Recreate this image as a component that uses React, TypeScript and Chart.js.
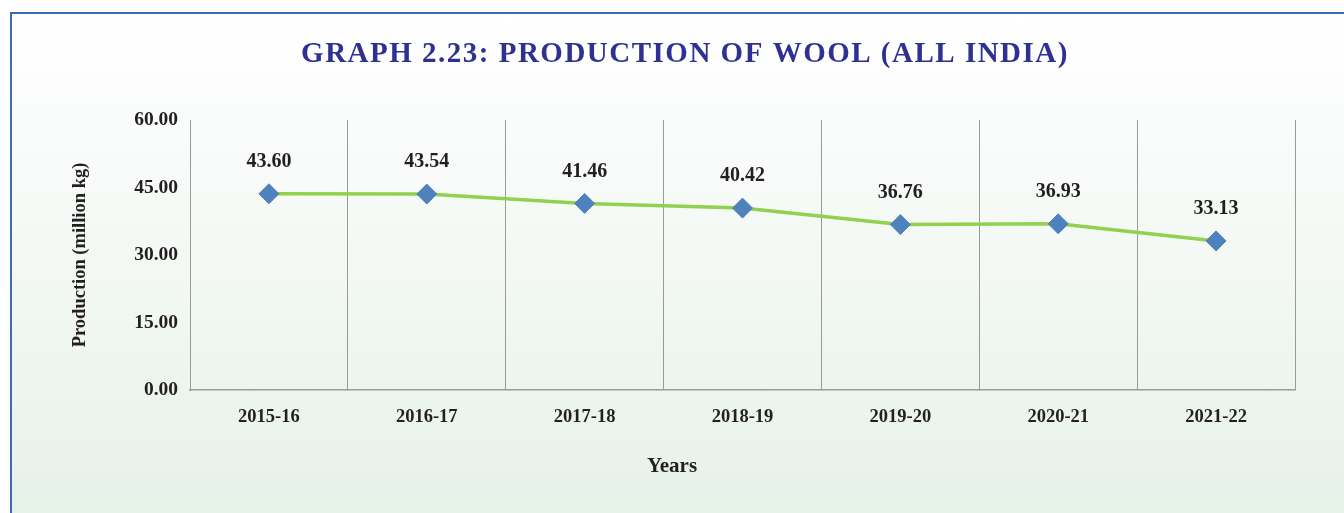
import React, { useEffect, useRef } from "react";
import { Chart, registerables } from "chart.js";

Chart.register(...registerables);

const categories = ["2015-16", "2016-17", "2017-18", "2018-19", "2019-20", "2020-21", "2021-22"];
const production = [43.6, 43.54, 41.46, 40.42, 36.76, 36.93, 33.13];
const yTicks = [0, 15, 30, 45, 60];
const titleText = "GRAPH 2.23: PRODUCTION OF WOOL (ALL INDIA)";
const yTitle = "Production (million kg)";
const xTitle = "Years";

const FONT = "'Liberation Serif', 'DejaVu Serif', serif";

const textPlugin = {
  id: "texts",
  afterDraw(chart: any) {
    const ctx = chart.ctx;
    ctx.save();
    // chart title
    ctx.font = `bold 29px ${FONT}`;
    ctx.fillStyle = "#2E3192";
    ctx.textAlign = "center";
    ctx.textBaseline = "middle";
    (ctx as any).letterSpacing = "1.5px";
    ctx.fillText(titleText, 685, 55);
    (ctx as any).letterSpacing = "0px";
    // x axis title
    ctx.font = `bold 21px ${FONT}`;
    ctx.fillStyle = "#231f20";
    ctx.fillText(xTitle, 672, 467);
    ctx.restore();
  },
  afterDatasetsDraw(chart: any) {
    const ctx = chart.ctx;
    const meta = chart.getDatasetMeta(0);
    ctx.save();
    ctx.font = `bold 20px ${FONT}`;
    ctx.fillStyle = "#231f20";
    ctx.textAlign = "center";
    ctx.textBaseline = "middle";
    meta.data.forEach((pt: any, i: number) => {
      ctx.fillText(production[i].toFixed(2), pt.x, pt.y - 32);
    });
    ctx.restore();
  },
};

export default function App() {
  const ref = useRef<HTMLCanvasElement | null>(null);

  useEffect(() => {
    document.body.style.margin = "0";
    const canvas = ref.current;
    if (!canvas) return;
    const chart = new Chart(canvas, {
      type: "line",
      data: {
        labels: categories,
        datasets: [
          {
            data: production,
            borderColor: "#92D050",
            borderWidth: 3.5,
            pointStyle: "rectRot",
            pointRadius: 10,
            pointHoverRadius: 10,
            pointBackgroundColor: "#4F81BD",
            pointBorderColor: "#4F81BD",
            pointBorderWidth: 1,
            tension: 0,
            fill: false,
          },
        ],
      },
      options: {
        responsive: false,
        animation: false,
        layout: { padding: { left: 69, right: 49, top: 120, bottom: 0 } },
        plugins: {
          legend: { display: false },
          tooltip: { enabled: false },
          title: { display: false },
        },
        scales: {
          x: {
            type: "category",
            offset: true,
            grid: { display: true, offset: true, color: "#9a9a9a", lineWidth: 1, drawTicks: false },
            border: { display: true, color: "#9a9a9a", width: 1.5 },
            ticks: {
              color: "#231f20",
              font: { family: FONT, size: 18.5, weight: "bold" },
              padding: 16,
              maxRotation: 0,
            },
            title: { display: false },
            afterFit(scale: any) {
              scale.height = 123;
            },
          },
          y: {
            min: 0,
            max: 60,
            afterBuildTicks(scale: any) {
              scale.ticks = yTicks.map((v) => ({ value: v }));
            },
            grid: { display: false, drawTicks: false },
            border: { display: true, color: "#9a9a9a", width: 1 },
            ticks: {
              color: "#231f20",
              font: { family: FONT, size: 19.5, weight: "bold" },
              padding: 12,
              callback: (v: any) => Number(v).toFixed(2),
            },
            title: {
              display: true,
              text: yTitle,
              color: "#231f20",
              font: { family: FONT, size: 18.5, weight: "bold" },
              padding: { top: 0, bottom: 0 },
            },
            afterFit(scale: any) {
              scale.width = 121;
            },
          },
        },
      },
      plugins: [textPlugin],
    });
    return () => chart.destroy();
  }, []);

  return (
    <div style={{ position: "relative", width: 1344, height: 513, overflow: "hidden", background: "#ffffff" }}>
      <div
        style={{
          position: "absolute",
          left: 10,
          top: 12,
          width: 1400,
          height: 600,
          borderLeft: "2px solid #3A6DB2",
          borderTop: "2px solid #3A6DB2",
          background: "linear-gradient(to bottom, #ffffff 0px, #f3f8f4 260px, #e6f1e8 501px)",
        }}
      />
      <canvas ref={ref} width={1344} height={513} style={{ position: "absolute", left: 0, top: 0, display: "block" }} />
    </div>
  );
}
